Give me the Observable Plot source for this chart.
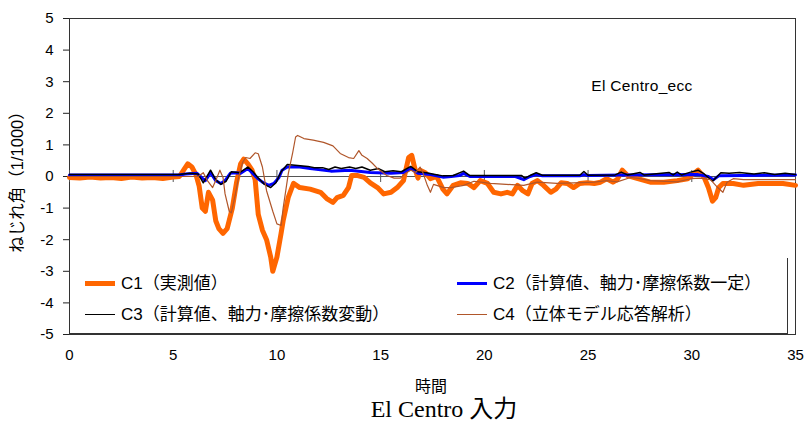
<!DOCTYPE html>
<html>
<head>
<meta charset="utf-8">
<script src="https://cdn.jsdelivr.net/npm/d3@7"></script>
<script src="https://cdn.jsdelivr.net/npm/@observablehq/plot@0.6"></script>
<style>
  body { margin: 0; background: #fff; }
  #wrap {
    position: relative; width: 805px; height: 423px; overflow: hidden;
    font-family: "Liberation Sans", "Noto Sans CJK JP", sans-serif; color: #000;
  }
  #wrap svg { position: absolute; left: 0; top: 0; }
  .lbl { position: absolute; white-space: nowrap; transform: translate(-50%, -50%); line-height: 1; }
  #ylab { left: 17px; top: 178px; font-size: 16.5px; transform: translate(-50%, -50%) rotate(-90deg); }
  #xlab { left: 431px; top: 387px; font-size: 16px; }
  #title { left: 444px; top: 409px; font-size: 24px; font-family: "Liberation Serif", "Noto Sans CJK JP", serif; }
  #note { left: 642px; top: 86px; font-size: 15.5px; letter-spacing: 0.3px; }
  #legend {
    position: absolute; left: 69px; top: 258px; width: 718px; height: 75px;
    border-right: 1px solid #333; border-bottom: 1px solid #333; background: transparent;
  }
  .item { position: absolute; display: flex; align-items: center; font-size: 17px; height: 22px; line-height: 1; }
  .sw { width: 30px; margin-right: 6px; }
</style>
</head>
<body>
<div id="wrap">
  <div id="legend"></div>
  <div class="lbl" id="ylab">ねじれ角（1/1000）</div>
  <div class="lbl" id="xlab">時間</div>
  <div class="lbl" id="title">El Centro 入力</div>
  <div class="lbl" id="note">El Centro_ecc</div>
</div>
<script>
// Axis ticks
const xTicks = [0, 5, 10, 15, 20, 25, 30, 35];
const yTicks = [-5, -4, -3, -2, -1, 0, 1, 2, 3, 4, 5];

// C1: measured torsion angle [time (s), angle (1/1000)]
const c1 = [[0,-0.03],[0.5,-0.05],[1,-0.02],[1.5,-0.05],[2,-0.03],[2.5,-0.06],[3,-0.02],[3.5,-0.05],[4,-0.03],[4.5,-0.06],[5,-0.02],[5.3,0.0],[5.5,0.2],[5.7,0.4],[5.9,0.3],[6.1,0.05],[6.25,-0.3],[6.4,-1.0],[6.55,-1.1],[6.7,-0.5],[6.9,-0.75],[7.05,-1.4],[7.2,-1.65],[7.4,-1.8],[7.6,-1.65],[7.85,-1.0],[8.05,-0.2],[8.25,0.4],[8.4,0.55],[8.6,0.4],[8.8,0.2],[8.95,-0.1],[9.1,-1.2],[9.3,-1.7],[9.5,-2.0],[9.7,-2.55],[9.8,-3.0],[10.0,-2.55],[10.2,-1.8],[10.3,-1.4],[10.55,-0.65],[10.8,-0.22],[11.1,-0.35],[11.6,-0.4],[12.1,-0.5],[12.4,-0.7],[12.7,-0.82],[12.9,-0.67],[13.2,-0.6],[13.45,-0.35],[13.6,0.03],[13.9,0.03],[14.2,-0.03],[14.5,-0.2],[14.85,-0.35],[15.15,-0.55],[15.5,-0.5],[15.8,-0.35],[16.1,-0.13],[16.35,0.6],[16.5,0.67],[16.65,0.25],[16.8,-0.05],[16.9,0.2],[17.15,0.12],[17.4,-0.07],[17.7,0.0],[18.0,-0.4],[18.2,-0.55],[18.5,-0.28],[18.85,-0.2],[19.2,-0.22],[19.5,-0.35],[19.8,-0.13],[20.15,-0.22],[20.45,-0.5],[20.8,-0.55],[21.1,-0.5],[21.35,-0.55],[21.6,-0.28],[21.85,-0.45],[22.1,-0.55],[22.3,-0.22],[22.55,-0.13],[22.85,-0.28],[23.2,-0.5],[23.45,-0.4],[23.7,-0.2],[24.0,-0.22],[24.3,-0.35],[24.6,-0.22],[24.95,-0.2],[25.3,-0.22],[25.6,-0.18],[25.9,-0.07],[26.2,-0.18],[26.4,-0.1],[26.65,0.2],[26.9,0.03],[27.4,-0.07],[28.0,-0.18],[28.65,-0.18],[29.3,-0.13],[29.8,-0.07],[30.3,0.2],[30.6,-0.03],[30.8,-0.35],[31.0,-0.78],[31.15,-0.67],[31.3,-0.35],[31.5,-0.22],[32.0,-0.22],[32.5,-0.28],[33.2,-0.22],[33.8,-0.22],[34.4,-0.22],[35,-0.28]];

// C2: computed, constant axial force and friction coefficient
const c2 = [[0,0.05],[5.3,0.05],[5.6,0.08],[6.15,0.1],[6.4,-0.05],[6.55,-0.13],[6.8,0.12],[7.05,-0.13],[7.3,-0.22],[7.5,-0.13],[7.75,0.1],[8.0,0.12],[8.25,0.1],[8.6,0.25],[8.8,0.12],[9.05,-0.05],[9.3,-0.18],[9.6,-0.28],[9.85,-0.22],[10.1,-0.03],[10.25,0.2],[10.5,0.3],[11.1,0.3],[11.6,0.25],[12.6,0.17],[13.5,0.2],[14.5,0.13],[15.5,0.1],[16.1,0.13],[16.45,0.25],[16.8,0.1],[17.4,0.06],[18.0,-0.02],[18.4,0.0],[18.8,0.03],[19.0,0.1],[19.3,0.0],[21.5,0.0],[21.9,-0.1],[22.2,0.0],[22.5,0.06],[22.8,0.02],[24.6,0.02],[24.8,0.06],[25.0,0.03],[26.6,0.05],[30.3,0.06],[30.8,0.0],[31.05,-0.1],[31.3,0.02],[35,0.05]];

// C3: computed, varying axial force and friction coefficient
const c3 = [[0,0.06],[5.3,0.06],[5.8,0.1],[6.2,0.08],[6.45,-0.2],[6.8,0.2],[7.05,-0.1],[7.3,-0.25],[7.55,-0.15],[7.8,0.15],[8.2,0.12],[8.6,0.3],[8.85,0.15],[9.1,-0.05],[9.4,-0.25],[9.7,-0.35],[9.95,-0.2],[10.2,0.15],[10.5,0.38],[11.0,0.35],[11.5,0.32],[11.8,0.28],[12.2,0.28],[12.5,0.22],[12.8,0.3],[13.1,0.25],[13.5,0.3],[13.8,0.25],[14.1,0.3],[14.5,0.2],[14.9,0.25],[15.2,0.15],[15.6,0.18],[16.0,0.15],[16.45,0.32],[16.8,0.15],[17.2,0.12],[17.5,0.08],[18.0,0.02],[18.5,0.03],[19.0,0.17],[19.3,0.03],[21.8,0.03],[21.95,-0.05],[22.2,0.03],[22.5,0.12],[22.8,0.04],[24.6,0.04],[24.8,0.16],[25.0,0.04],[26.3,0.05],[26.6,0.14],[26.9,0.05],[27.5,0.13],[27.7,0.05],[28.9,0.13],[29.1,0.05],[29.3,0.14],[29.5,0.05],[29.9,0.13],[30.3,0.2],[30.6,0.08],[31.0,-0.15],[31.4,0.12],[31.8,0.1],[32.3,0.13],[33.0,0.08],[33.5,0.12],[34.0,0.06],[34.5,0.1],[35,0.06]];

// C4: 3D model response analysis
const c4 = [[0,0.0],[6.2,0.0],[6.45,0.12],[6.65,-0.13],[6.9,-0.35],[7.05,-0.13],[7.25,0.2],[7.4,-0.03],[7.5,-0.55],[7.7,-1.1],[7.8,-1.15],[8.0,-0.55],[8.15,-0.03],[8.35,0.45],[8.5,0.6],[8.7,0.57],[8.95,0.75],[9.1,0.72],[9.3,0.3],[9.5,-0.45],[9.8,-1.1],[10.0,-1.5],[10.2,-1.55],[10.3,-1.0],[10.55,0.1],[10.75,0.72],[10.9,1.25],[11.0,1.3],[11.3,1.2],[11.75,1.15],[12.25,1.08],[12.7,0.97],[13.05,0.73],[13.45,0.6],[13.7,0.57],[13.95,0.82],[14.1,0.67],[14.35,0.57],[14.6,0.42],[14.85,0.25],[15.1,0.13],[15.3,0.03],[15.65,-0.05],[15.95,-0.05],[16.2,0.1],[16.45,0.2],[16.7,0.13],[16.9,0.3],[17.05,0.1],[17.25,-0.28],[17.4,-0.5],[17.55,-0.25],[17.7,-0.28],[18.05,-0.35],[18.4,-0.35],[19.0,-0.28],[19.5,-0.15],[20.3,-0.22],[21.9,-0.28],[22.55,-0.18],[23.5,-0.22],[24.3,-0.2],[25.3,-0.18],[25.9,-0.13],[26.4,-0.17],[27.05,-0.03],[27.5,-0.07],[28.0,-0.13],[29.3,-0.17],[29.95,-0.07],[30.4,-0.05],[30.9,-0.1],[31.25,-0.35],[31.5,-0.5],[31.7,-0.18],[32.0,-0.07],[32.5,-0.1],[35,-0.1]];

const seriesNames = ["C1（実測値）", "C2（計算値、軸力･摩擦係数一定）", "C3（計算値、軸力･摩擦係数変動）", "C4（立体モデル応答解析）"];
const seriesColors = ["#ff6600", "#0000ff", "#000000", "#b0562a"];
const seriesWidths = [5, 3, 1.5, 1.2];
const seriesData = [c1, c2, c3, c4];

const chart = Plot.plot({
  width: 805,
  height: 396,
  marginLeft: 69,
  marginRight: 10,
  marginTop: 18,
  marginBottom: 62,
  x: { domain: [0, 35] },
  y: { domain: [-5, 5] },
  style: { fontFamily: '"Liberation Sans", Arial, sans-serif', fontSize: "15px", color: "#000", background: "transparent" },
  marks: [
    Plot.frame({ stroke: "#333" }),
    Plot.ruleY([0], { stroke: "#555", strokeWidth: 1 }),
    Plot.ruleX(xTicks, { y1: -0.19, y2: 0.19, stroke: "#555" }),
    Plot.axisY(yTicks, { tickSize: 6, tickPadding: 10, tickFormat: d => String(d), label: null, stroke: "#222" }),
    Plot.axisX(xTicks, { tickSize: 0, tickPadding: 15, tickFormat: d => String(d), label: null }),
    ...seriesData.map((data, i) =>
      Plot.line(data, { x: d => d[0], y: d => d[1], stroke: seriesColors[i], strokeWidth: seriesWidths[i], strokeLinejoin: "round" })
    )
  ]
});

const wrap = document.getElementById("wrap");
wrap.insertBefore(chart, wrap.firstChild);

// Legend: two columns, C1/C3 on the left, C2/C4 on the right
const legend = document.getElementById("legend");
const slots = [
  { i: 0, left: 16, top: 14 },
  { i: 1, left: 388, top: 14 },
  { i: 2, left: 16, top: 45 },
  { i: 3, left: 388, top: 45 }
];
for (const s of slots) {
  const item = document.createElement("div");
  item.className = "item";
  item.style.left = s.left + "px";
  item.style.top = s.top + "px";
  const sw = document.createElement("div");
  sw.className = "sw";
  sw.style.borderTop = seriesWidths[s.i] + "px solid " + seriesColors[s.i];
  const tx = document.createElement("span");
  tx.textContent = seriesNames[s.i];
  item.appendChild(sw);
  item.appendChild(tx);
  legend.appendChild(item);
}
</script>
</body>
</html>
